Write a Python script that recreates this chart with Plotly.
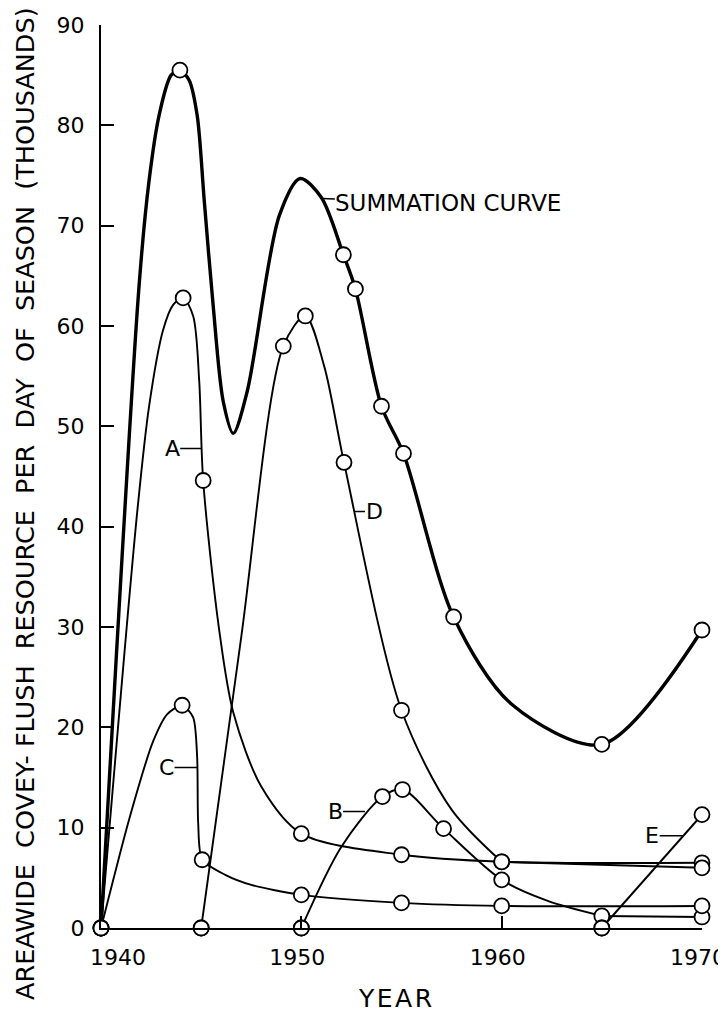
import plotly.graph_objects as go

# ---------------- data ----------------
# Summation curve: marked points
SUM_X = [1940, 1943.94, 1952.1, 1952.7, 1954.0, 1955.1, 1957.6, 1965.0, 1970]
SUM_Y = [0, 85.5, 67.1, 63.7, 52.0, 47.3, 31.0, 18.3, 29.7]
# Summation curve: points
SUM_PATH_X = [1940, 1941.9, 1942.4, 1942.9, 1943.5, 1943.94, 1944.4, 1944.8, 1945.15,
              1945.6, 1946.1, 1946.6, 1947.3, 1948.9,
              1949.94, 1951.0, 1952.1, 1952.7, 1954.0, 1955.1, 1957.6, 1960.5, 1965.0, 1970]
SUM_PATH_Y = [0, 64.0, 74.5, 81.0, 85.0, 85.5, 84.5, 81.0, 72.6,
              62.0, 52.5, 49.3, 53.5, 71.0,
              74.7, 72.8, 67.1, 63.7, 52.0, 47.3, 31.0, 22.3, 18.3, 29.7]

# Curve A
A_X = [1940, 1944.1, 1945.1, 1950, 1955, 1960, 1970]
A_Y = [0, 62.8, 44.6, 9.4, 7.3, 6.6, 6.5]
A_PATH_X = [1940, 1941.8, 1942.4, 1943.1, 1943.6, 1944.1, 1944.6, 1944.9, 1945.1, 1945.9,
            1946.6, 1948.0, 1950, 1955, 1960, 1970]
A_PATH_Y = [0, 41.3, 52.0, 59.6, 62.1, 62.8, 61.0, 54.6, 44.6, 29.7,
            21.5, 14.1, 9.4, 7.3, 6.6, 6.5]

# Curve B
B_X = [1950, 1954.05, 1955.05, 1957.1, 1960, 1965, 1970]
B_Y = [0, 13.1, 13.8, 9.9, 4.8, 1.2, 1.1]
B_PATH_X = [1950, 1952.0, 1954.05, 1955.05, 1957.1, 1960, 1962.3, 1965]
B_PATH_Y = [0, 8.1, 13.1, 13.8, 9.9, 4.8, 2.7, 1.2]
B_TAIL_X = [1965, 1970]
B_TAIL_Y = [1.2, 1.1]

# Curve C
C_X = [1940, 1944.05, 1945.05, 1950, 1955, 1960, 1970]
C_Y = [0, 22.2, 6.8, 3.3, 2.5, 2.2, 2.2]
C_PATH_X = [1940, 1941.4, 1942.6, 1943.3, 1944.05, 1944.6, 1944.8, 1944.85, 1945.05,
            1946.2, 1947.5, 1950, 1955, 1960, 1970]
C_PATH_Y = [0, 10.8, 18.6, 21.3, 22.2, 21.0, 17.0, 10.5, 6.8,
            5.3, 4.3, 3.3, 2.5, 2.2, 2.2]

# Curve D
D_X = [1945, 1949.1, 1950.2, 1952.13, 1955, 1960, 1970]
D_Y = [0, 58.0, 61.0, 46.4, 21.7, 6.6, 6.0]
D_PATH_X = [1945, 1947.0, 1949.1, 1950.2, 1951.14, 1952.13, 1955, 1957.5, 1960]
D_PATH_Y = [0, 29.0, 58.0, 61.0, 56.0, 46.4, 21.7, 11.8, 6.6]
D_TAIL_X = [1960, 1970]
D_TAIL_Y = [6.6, 6.0]

# Curve E
E_X = [1965, 1970]
E_Y = [0, 11.3]

# Extra marked zero points on the baseline
ZERO_X = [1940, 1945, 1950, 1965]
ZERO_Y = [0, 0, 0, 0]

# Curve labels: (text, x, y on curve, text offset px)
LABELS = [
    ("SUMMATION CURVE", 1951.05, 72.7, 126, 4),
    ("A", 1945.0, 47.8, -29, 0),
    ("D", 1952.68, 41.5, 19, 0),
    ("C", 1944.82, 16.0, -31, 0),
    ("B", 1953.18, 11.6, -30, 0),
    ("E", 1969.06, 9.2, -31, 0),
]

X_TICKS = [1940, 1950, 1960, 1970]
X_TICK_TEXT = ["\u2007\u2007\u20071940", "1950", "1960", "1970"]
Y_TICKS = list(range(0, 91, 10))

FONT = "DejaVu Sans"

fig = go.Figure()

def curve(xs, ys, w, sm=0.85, shape="spline"):
    fig.add_trace(go.Scatter(x=xs, y=ys, mode="lines",
                             line=dict(color="black", width=w, shape=shape,
                                       smoothing=sm if shape == "spline" else None),
                             cliponaxis=False, hoverinfo="skip", showlegend=False))

def marks(xs, ys):
    fig.add_trace(go.Scatter(x=xs, y=ys, mode="markers",
                             marker=dict(symbol="circle", size=15, color="white",
                                         line=dict(color="black", width=1.8)),
                             cliponaxis=False, hoverinfo="skip", showlegend=False))

curve(SUM_PATH_X, SUM_PATH_Y, 3.4)
curve(A_PATH_X, A_PATH_Y, 1.9)
curve(B_PATH_X, B_PATH_Y, 1.9)
curve(B_TAIL_X, B_TAIL_Y, 1.9, shape="linear")
curve(C_PATH_X, C_PATH_Y, 1.9, 0.7)
curve(D_PATH_X, D_PATH_Y, 1.9)
curve(D_TAIL_X, D_TAIL_Y, 1.9, shape="linear")
curve(E_X, E_Y, 2.0, shape="linear")

for xs, ys in [(SUM_X, SUM_Y), (A_X, A_Y), (B_X, B_Y), (C_X, C_Y), (D_X, D_Y), (E_X, E_Y), (ZERO_X, ZERO_Y)]:
    marks(xs, ys)

for text, x, y, ax, ay in LABELS:
    fig.add_annotation(x=x, y=y, xref="x", yref="y", text=text, showarrow=True,
                       arrowhead=0, arrowwidth=1.5, arrowcolor="black", ax=ax, ay=ay,
                       standoff=0, borderpad=0,
                       font=dict(family=FONT, size=23 if len(text) > 1 else 22, color="black"))

fig.add_annotation(text="AREAWIDE  COVEY- FLUSH  RESOURCE  PER  DAY  OF  SEASON  (THOUSANDS)",
                   xref="paper", yref="paper", x=-0.1265, y=0.4707, textangle=-90,
                   showarrow=False, xanchor="center", yanchor="middle",
                   font=dict(family=FONT, size=25.5, color="black"))
fig.add_annotation(text="Y\u200aE\u200aA\u200aR", xref="paper", yref="paper", x=0.489, y=-0.0786,
                   showarrow=False, xanchor="center", yanchor="middle",
                   font=dict(family=FONT, size=25, color="black"))

# the page body adds an 8 px margin, so the figure is 718 x 1007
fig.update_layout(
    width=718, height=1007,
    margin=dict(l=93, r=24, t=17, b=87, autoexpand=False),
    paper_bgcolor="white", plot_bgcolor="white",
    showlegend=False,
    font=dict(family=FONT, color="black"),
)
fig.update_xaxes(range=[1940, 1970], showgrid=False, zeroline=False, automargin=False,
                 showline=True, linecolor="black", linewidth=1.6,
                 ticks="inside", ticklen=12, tickwidth=1.5, tickcolor="black",
                 tickvals=X_TICKS, ticktext=X_TICK_TEXT,
                 tickfont=dict(family=FONT, size=22, color="black"),
                 ticklabelstandoff=9, ticklabelshift=-4, ticklabeloverflow="allow")
fig.update_yaxes(range=[0, 90], showgrid=False, zeroline=False, automargin=False,
                 showline=True, linecolor="black", linewidth=2,
                 ticks="inside", ticklen=13, tickwidth=1.5, tickcolor="black",
                 tickvals=Y_TICKS,
                 tickfont=dict(family=FONT, size=22, color="black"),
                 ticklabelstandoff=10, ticklabeloverflow="allow")

fig.write_html("out.html")
